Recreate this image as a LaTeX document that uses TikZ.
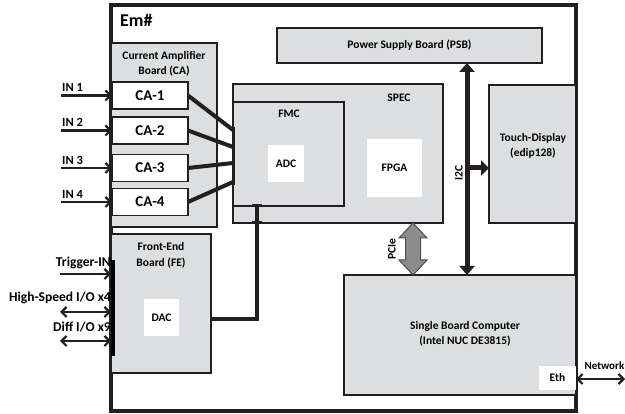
\documentclass[tikz,border=0pt]{standalone}
\usepackage{fontspec}
\setmainfont{Carlito}
\usetikzlibrary{arrows.meta,calc}
\definecolor{boxgray}{RGB}{221,222,223}
\definecolor{edge}{RGB}{35,31,32}
\definecolor{pciegray}{RGB}{140,140,140}
\begin{document}
\begin{tikzpicture}[x=1pt,y=-1pt,font=\bfseries,
  box/.style={draw=edge,fill=boxgray,line width=1.5pt,anchor=north west,inner sep=0pt,outer sep=0pt},
  wbox/.style={fill=white,anchor=north west,inner sep=0pt,outer sep=0pt,font=\bfseries\fontsize{11.5}{13}\selectfont},
  cabox/.style={draw=edge,fill=white,line width=1.5pt,anchor=north west,inner sep=0pt,outer sep=0pt,
     minimum width=76pt,minimum height=27pt,font=\bfseries\fontsize{15}{15}\selectfont},
  lbl/.style={inner sep=0pt,align=center,font=\bfseries\fontsize{11.5}{15.5}\selectfont},
  olbl/.style={inner sep=0pt,font=\bfseries\fontsize{13.5}{15}\selectfont},
  inarrow/.style={draw=edge,line width=2.2pt,-{Straight Barb[length=5pt,width=10pt]}},
  bothway/.style={draw=edge,line width=2.2pt,{Straight Barb[length=5pt,width=10pt]}-{Straight Barb[length=5pt,width=10pt]}},
  bus/.style={draw=edge,line width=4pt},
  i2cbus/.style={draw=edge,line width=5pt}]
\useasboundingbox (0,0) rectangle (625,414);
% outer enclosure
\node[draw=edge,line width=3.5pt,fill=white,anchor=north west,inner sep=0pt,outer sep=0pt,
      minimum width=465pt,minimum height=406pt] (outer) at (111,5) {};
\node[anchor=base west,inner sep=0pt,font=\bfseries\fontsize{18}{18}\selectfont] (em) at (120,27) {Em\#};
% boards
\node[box,minimum width=106pt,minimum height=184pt] (ca) at (111,43) {};
\node[lbl] (catitle) at (164,64) {Current Amplifier\\Board (CA)};
\node[box,minimum width=100pt,minimum height=139pt] (fe) at (111,234) {};
\node[lbl] (fetitle) at (161,255.5) {Front-End\\Board (FE)};
\node[wbox,minimum width=35pt,minimum height=37pt] (dac) at (144,299) {DAC};
\node[box,minimum width=265pt,minimum height=35pt,font=\bfseries\fontsize{11.5}{13}\selectfont] (psb) at (277,28) {Power Supply Board (PSB)};
\node[box,minimum width=210pt,minimum height=139pt] (spec) at (233,84) {};
\node[lbl] (spectitle) at (399,98) {SPEC};
\node[box,minimum width=111pt,minimum height=104pt] (fmc) at (233,102) {};
\node[lbl] (fmctitle) at (289,114) {FMC};
\node[wbox,minimum width=36pt,minimum height=37pt] (adc) at (268,145) {ADC};
\node[wbox,minimum width=55pt,minimum height=58pt] (fpga) at (367,139) {FPGA};
\node[box,minimum width=87pt,minimum height=138pt] (touch) at (489,85) {};
\node[lbl] (touchtitle) at (533,146) {Touch-Display\\(edip128)};
\node[box,minimum width=232pt,minimum height=120pt] (sbc) at (344,275) {};
\node[lbl] (sbctitle) at (465,334) {Single Board Computer\\(Intel NUC DE3815)};
\node[wbox,minimum width=37pt,minimum height=24pt] (eth) at (539,366) {Eth};
% CA channels
\node[cabox] (ca1) at (112,82) {CA-1};
\node[cabox] (ca2) at (112,117) {CA-2};
\node[cabox] (ca3) at (112,154.5) {CA-3};
\node[cabox] (ca4) at (112,188.5) {CA-4};
% inputs
\foreach \i/\t in {1/IN 1,2/IN 2,3/IN 3,4/IN 4}{
  \coordinate (in\i) at ($(ca\i.west)+(-51,0)$);
  \draw[inarrow] (in\i) -- (ca\i.west);
  \node[olbl,font=\bfseries\fontsize{12.5}{15}\selectfont,anchor=base west] (inl\i) at ($(in\i)+(1,-3.5)$) {\t};
}
% CA -> SPEC/FMC connections
\draw[draw=edge,line width=3pt] ($(spec.north west)+(0,43)$) -- ($(spec.north west)+(0,101)$);
\coordinate (p1) at ($(spec.north west)+(0,46)$);
\coordinate (p2) at ($(spec.north west)+(0,63)$);
\coordinate (p3) at ($(spec.north west)+(0,79)$);
\coordinate (p4) at ($(spec.north west)+(0,98)$);
\draw[bus] (ca1.east) -- (p1);
\draw[bus] (ca2.east) -- (p2);
\draw[bus] (ca3.east) -- (p3);
\draw[bus] (ca4.east) -- (p4);
% front-end connectors
\draw[draw=black,line width=4pt] (112.5,260) -- (112.5,356);
\coordinate (trg) at (60,274);
\coordinate (hs) at (60,312);
\coordinate (df) at (60,341);
\draw[inarrow] (trg) -- (fe.west |- trg);
\draw[bothway] (hs) -- (fe.west |- hs);
\draw[bothway] (df) -- (fe.west |- df);
\node[olbl,anchor=base east] (trgl) at (111,267) {Trigger-IN};
\node[olbl,anchor=base east] (hsl) at (111,302) {High-Speed I/O x4};
\node[olbl,anchor=base east] (dfl) at (111,332) {Diff I/O x9};
% DAC -> FMC
\path (257,319) coordinate (dx);
\draw[bus,line join=miter] (fe.east |- dx) -| (fmc.south -| dx);
\draw[draw=edge,line width=3pt] ($(fmc.south -| dx)+(-5,0)$) -- ($(fmc.south -| dx)+(5,0)$);
\draw[draw=edge,line width=3pt] ($(spec.south -| dx)+(-5,0)$) -- ($(spec.south -| dx)+(5,0)$);
% I2C bus
\path (467,168) coordinate (ix);
\draw[i2cbus,{Triangle[length=9pt,width=15pt]}-{Triangle[length=9pt,width=15pt]}] (psb.south -| ix) -- (sbc.north -| ix);
\draw[i2cbus,-{Triangle[length=8pt,width=15pt]}] (ix) -- (touch.west |- ix);
\node[lbl,rotate=90] (i2cl) at (459,173) {I2C};
% PCIe
\path (413,0) coordinate (px);
\coordinate (pt) at (spec.south -| px);
\coordinate (pb) at (sbc.north -| px);
\filldraw[fill=pciegray,draw=edge!80,line width=1pt]
  (pt) -- ++(14,15) -- ++(-6.5,0) |- ($(pb)+(7.5,-15)$) -- ++(6.5,0) -- (pb)
  -- ++(-14,-15) -- ++(6.5,0) |- ($(pt)+(-7.5,15)$) -- ++(-6.5,0) -- cycle;
\node[lbl,rotate=90] (pciel) at (392,249) {PCIe};
% network
\coordinate (net) at (625,379);
\draw[bothway] (eth.east |- net) -- (net);
\node[olbl,anchor=base east,font=\bfseries\fontsize{11}{13}\selectfont] (netl) at (624.5,370) {Network};
\end{tikzpicture}
\end{document}
